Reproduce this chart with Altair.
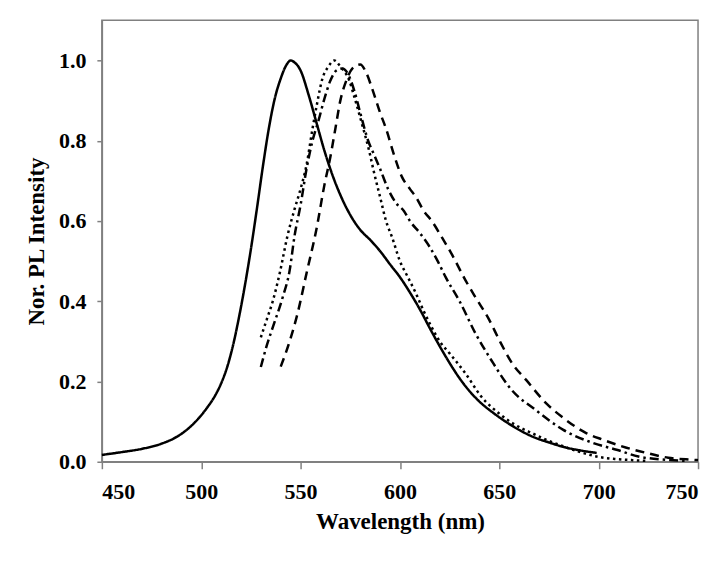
import altair as alt
import pandas as pd

# Series A (solid)
wl_a = [450, 460, 470, 480, 488, 494, 499, 503, 507, 510, 513, 516, 519, 522, 525, 528, 531, 534, 537, 540,
        543, 545, 547, 550, 554, 558, 562, 566, 570, 575, 580, 585, 590, 595, 600, 605, 610, 615, 620, 625,
        630, 635, 640, 648, 657, 667, 675, 683, 691, 699]
pl_a = [0.017, 0.024, 0.032, 0.045, 0.063, 0.085, 0.110, 0.135, 0.165, 0.195, 0.235, 0.290, 0.360, 0.440, 0.530,
        0.630, 0.735, 0.830, 0.905, 0.955, 0.990, 1.000, 0.995, 0.975, 0.915, 0.845, 0.775, 0.715, 0.665, 0.615,
        0.578, 0.553, 0.525, 0.492, 0.460, 0.422, 0.380, 0.333, 0.288, 0.246, 0.208, 0.176, 0.150, 0.118, 0.088,
        0.062, 0.048, 0.036, 0.028, 0.022]

# Series B (dotted)
wl_b = [530, 533, 536, 539.5, 543.5, 547, 550, 553, 556, 558, 561, 564, 567, 570, 574.5, 577, 581, 584.5, 587,
        590, 593, 596, 600, 604, 608, 612, 616, 620, 625, 633, 641, 650, 658, 667, 675, 683, 692, 700, 708, 717, 725]
pl_b = [0.310, 0.355, 0.400, 0.470, 0.565, 0.630, 0.680, 0.740, 0.830, 0.885, 0.955, 0.985, 1.000, 0.985, 0.950,
        0.910, 0.840, 0.775, 0.720, 0.660, 0.600, 0.560, 0.500, 0.460, 0.420, 0.375, 0.335, 0.300, 0.270, 0.220,
        0.162, 0.120, 0.092, 0.070, 0.052, 0.037, 0.022, 0.012, 0.007, 0.004, 0.002]

# Series C (dash-dot)
wl_c = [530, 533, 536, 541, 544.5, 547, 550, 553, 556, 559, 562, 565, 568, 571, 574, 577, 580, 584, 587, 590,
        594, 598, 602, 605, 610, 615, 619, 623, 630, 638, 646, 656, 668, 682, 697, 709, 720, 734, 745]
pl_c = [0.236, 0.290, 0.335, 0.410, 0.477, 0.564, 0.640, 0.730, 0.800, 0.850, 0.905, 0.950, 0.975, 0.980, 0.965,
        0.925, 0.870, 0.800, 0.765, 0.730, 0.680, 0.645, 0.625, 0.600, 0.570, 0.535, 0.500, 0.460, 0.400, 0.320,
        0.253, 0.180, 0.130, 0.080, 0.047, 0.030, 0.013, 0.005, 0.002]

# Series D (dashed)
wl_d = [540, 544.5, 548.5, 553, 558, 562, 565, 567.5, 570, 573, 576, 580, 583, 586, 590, 593, 597, 601, 605, 608,
        612, 616, 621, 626, 633, 638, 645, 650, 656.5, 663.5, 673.5, 681.5, 693.5, 702, 714, 724, 735, 747, 750]
pl_d = [0.237, 0.300, 0.370, 0.470, 0.580, 0.690, 0.760, 0.830, 0.900, 0.950, 0.980, 0.990, 0.970, 0.930, 0.870,
        0.830, 0.765, 0.710, 0.680, 0.660, 0.625, 0.600, 0.560, 0.518, 0.452, 0.410, 0.353, 0.303, 0.245, 0.204,
        0.146, 0.112, 0.072, 0.055, 0.035, 0.022, 0.010, 0.005, 0.004]

series_names = ["A", "B", "C", "D"]
dash_styles = [[1, 0], [2.5, 3.5], [9, 4, 2.5, 4], [9, 6]]

frames = []
for name, wl, pl in zip(series_names, [wl_a, wl_b, wl_c, wl_d], [pl_a, pl_b, pl_c, pl_d]):
    frames.append(pd.DataFrame({"series": name, "wl": wl, "pl": pl}))
df = pd.concat(frames, ignore_index=True)

x_ticks = [450, 500, 550, 600, 650, 700, 750]
y_ticks = [0.0, 0.2, 0.4, 0.6, 0.8, 1.0]

chart = alt.Chart(df).mark_line(color="black", strokeWidth=2.5, interpolate="monotone").encode(
    x=alt.X("wl:Q", title="Wavelength (nm)",
            scale=alt.Scale(domain=[450, 750], nice=False, zero=False),
            axis=alt.Axis(values=x_ticks, format="d", labelPadding=13, titlePadding=8, tickSize=7)),
    y=alt.Y("pl:Q", title="Nor. PL Intensity",
            scale=alt.Scale(domain=[0, 1.1], nice=False),
            axis=alt.Axis(values=y_ticks, format=".1f", labelPadding=11, titlePadding=10, tickSize=5)),
    strokeDash=alt.StrokeDash("series:N", scale=alt.Scale(domain=series_names, range=dash_styles), legend=None),
).properties(
    width=597,
    height=442,
    autosize=alt.AutoSizeParams(type="none"),
    padding={"left": 94, "top": 12, "right": 20, "bottom": 90},
).configure_view(
    stroke="#808080", strokeWidth=1.5
).configure_axis(
    grid=False,
    domainColor="#808080", domainWidth=1.5,
    tickColor="#808080", tickWidth=1.5,
    labelFont="Liberation Serif", labelFontWeight="bold", labelFontSize=22, labelColor="black",
    titleFont="Liberation Serif", titleFontWeight="bold", titleFontSize=23, titleColor="black",
)

chart.save("out.html", embed_options={"renderer": "svg", "actions": False})
